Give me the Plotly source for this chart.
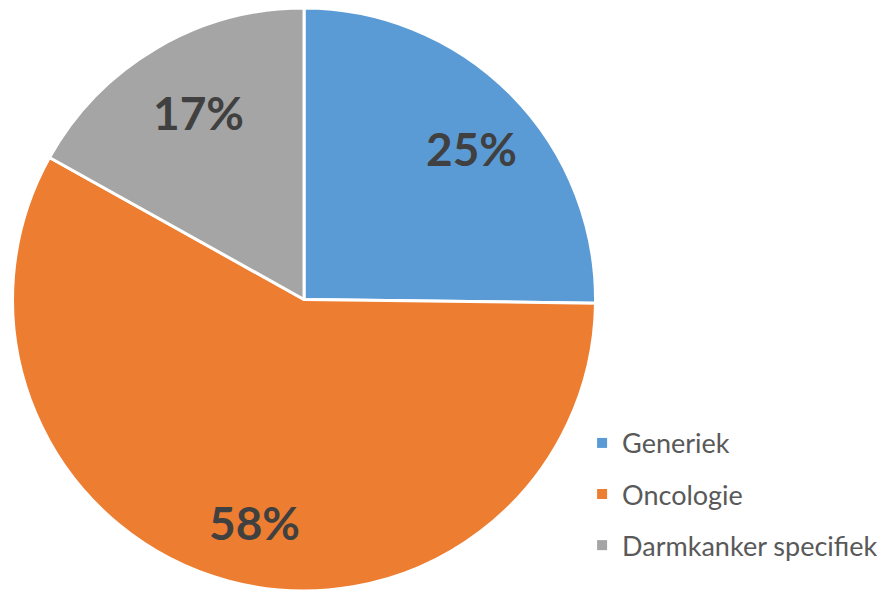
import math
import plotly.graph_objects as go

categories = ["Generiek", "Oncologie", "Darmkanker specifiek"]
values = [25.2, 57.9, 16.9]
colors = ["#5B9BD5", "#ED7D31", "#A5A5A5"]

W, H = 885, 590
CX, CY, R = 304, 298, 291  # pie centre/radius in pixels (layout)
LABEL_R = 0.77

fig = go.Figure()
fig.add_trace(go.Pie(
    labels=categories, values=values, sort=False, direction="clockwise",
    rotation=0, marker=dict(colors=colors, line=dict(color="white", width=3)),
    textinfo="none", showlegend=False, hoverinfo="label+percent",
    domain=dict(x=[0.0012, 0.6678], y=[0.0119, 1.0]),
))
for i, (c, col) in enumerate(zip(categories, colors)):
    fig.add_trace(go.Scatter(
        x=[None], y=[None], mode="markers", name=c, legendgroup=str(i),
        marker=dict(symbol="square", size=10, color=col),
    ))

total = sum(values)
start = 0.0
annotations = []
for v in values:
    mid = start + v / total * 360 / 2
    start += v / total * 360
    a = math.radians(mid)
    px = CX + LABEL_R * R * math.sin(a)
    py = CY - LABEL_R * R * math.cos(a)
    annotations.append(dict(
        x=px / W, y=1 - py / H, xref="paper", yref="paper", showarrow=False,
        xanchor="center", yanchor="middle",
        text=f"{round(v / total * 100)}%",
        font=dict(family="Lato", size=46, color="#404040", weight="bold"),
    ))

fig.update_layout(
    width=W, height=H, margin=dict(l=0, r=0, t=0, b=0),
    paper_bgcolor="white", plot_bgcolor="white",
    xaxis=dict(visible=False), yaxis=dict(visible=False),
    annotations=annotations,
    legend=dict(x=0.6487, y=0.3036, xanchor="left", yanchor="top",
                font=dict(family="Lato", size=27, color="#595959"),
                tracegroupgap=13, itemwidth=30, traceorder="grouped"),
)
fig.write_html("out.html")
